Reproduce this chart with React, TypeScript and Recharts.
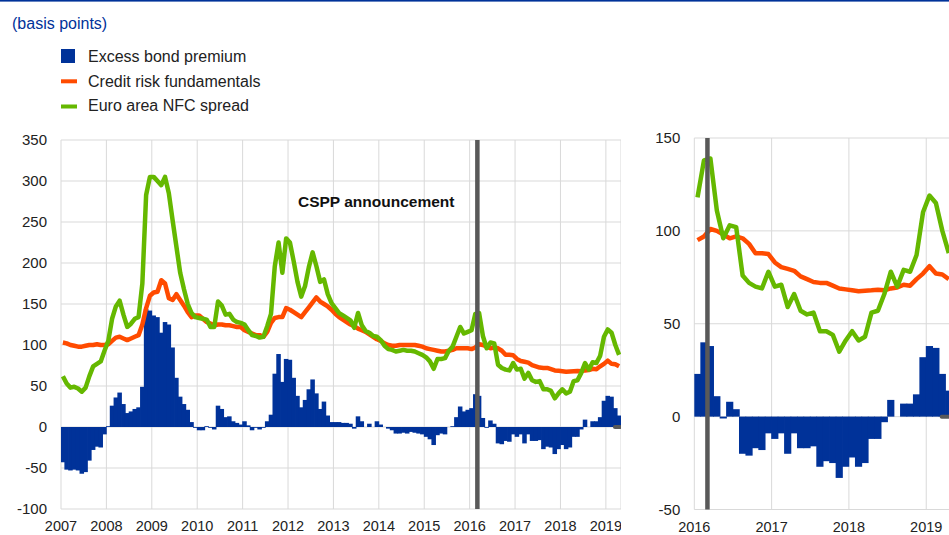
import React from "react";
import {
  ComposedChart,
  Bar,
  Line,
  XAxis,
  YAxis,
  CartesianGrid,
  ReferenceLine,
} from "recharts";

// monthly data, Jan 2007 - Apr 2019 (basis points)
const START_YEAR = 2007;

const excessBondPremium = [
  -43, -52, -53, -52, -53, -57, -55, -41, -28, -24, -25, -9, // 2007
  1, 26, 36, 42, 28, 17, 19, 22, 24, 49, 144, 142, // 2008
  136, 134, 115, 128, 125, 97, 60, 37, 28, 21, 6, -1, // 2009
  -4, -4, 1, -1, -3, 26, 22, 12, 13, 7, 5, 3, // 2010
  7, 2, -4, -1, -3, -1, 7, 15, 65, 89, 55, 83, // 2011
  82, 60, 38, 24, 33, 46, 58, 41, 22, 31, 14, 6, // 2012
  6, 6, 5, 5, 4, -2, 13, 7, 0, 4, 0, 7, // 2013
  3, 0, -2, -4, -8, -8, -7, -8, -6, -7, -8, -9, // 2014
  -12, -15, -22, -10, -8, -9, 0, 1, 12, 25, 19, 21, // 2015
  23, 40, 38, 11, -1, 8, 4, -20, -21, -17, -18, -9, // 2016
  -12, -9, -20, -9, -17, -17, -16, -27, -24, -25, -33, -27, // 2017
  -22, -27, -25, -12, -12, -3, 9, 0, 7, 7, 12, 32, // 2018
  38, 37, 23, 14, // 2019
];

const creditRiskFundamentals = [
  103, 102, 100, 99, 98, 98, 99, 100, 100, 101, 100, 100, // 2007
  101, 105, 109, 110, 108, 106, 108, 110, 112, 125, 145, 160, // 2008
  164, 165, 179, 175, 157, 155, 162, 155, 148, 140, 134, 136, // 2009
  136, 132, 128, 126, 124, 125, 125, 124, 124, 123, 122, 122, // 2010
  118, 116, 114, 112, 112, 110, 116, 127, 133, 134, 134, 145, // 2011
  143, 140, 137, 134, 140, 146, 152, 158, 153, 150, 147, 143, // 2012
  138, 134, 131, 128, 125, 123, 120, 118, 116, 113, 110, 107, // 2013
  105, 102, 100, 99, 99, 100, 100, 100, 100, 100, 99, 98, // 2014
  96, 95, 94, 93, 92, 92, 93, 94, 96, 96, 96, 96, // 2015
  95, 97, 101, 100, 98, 96, 97, 96, 93, 88, 88, 87.5, // 2016
  83, 80.5, 79.5, 78.5, 75.5, 74, 72.5, 72, 72, 70.5, 69, 68.5, // 2017
  68, 67.5, 67.8, 68, 68.3, 68, 69, 69.5, 71, 70.5, 74, 77, // 2018
  81, 77, 76.5, 74, // 2019
];

const nfcSpread = [
  62, 53, 48, 49, 47, 43, 48, 62, 74, 77, 80, 93, // 2007
  105, 132, 147, 154, 137, 122, 126, 132, 134, 175, 283, 305, // 2008
  305, 300, 295, 305, 285, 252, 220, 188, 168, 150, 139, 134, // 2009
  133, 132, 131, 122, 122, 153, 148, 137, 138, 131, 128, 127, // 2010
  125, 118, 112, 111, 109, 110, 123, 138, 196, 225, 188, 230, // 2011
  225, 202, 177, 159, 172, 195, 213, 196, 177, 180, 162, 151, // 2012
  145, 139, 136, 133, 130, 121, 139, 124, 117, 115, 111, 110, // 2013
  106, 99, 95, 94, 92, 93, 94, 93, 93, 92, 90, 88, // 2014
  85, 80, 71, 83, 83, 84, 93, 98, 110, 122, 114, 116, // 2015
  118, 138, 139, 111, 96, 103, 102, 76, 72, 70, 69, 78, // 2016
  70, 71, 59, 66, 57, 55, 56, 46, 46, 44, 35, 41, // 2017
  46, 41, 43, 56, 57, 66, 78, 70, 79, 78, 87, 110, // 2018
  119, 115, 100, 88, // 2019
];

const leftYears = [2007, 2008, 2009, 2010, 2011, 2012, 2013, 2014, 2015, 2016, 2017, 2018, 2019];
const rightYears = [2016, 2017, 2018, 2019];
const leftYTicks = [-100, -50, 0, 50, 100, 150, 200, 250, 300, 350];
const rightYTicks = [-50, 0, 50, 100, 150];

const CSPP_DATE = 2016.17;
const END = 2019 + 4 / 12;

const BLUE = "#003299";
const ORANGE = "#ff4b00";
const GREEN = "#65b800";
const GREY = "#595959";
const FONT = '"Liberation Sans", Arial, sans-serif';

// month midpoints so each bar fills its month
const rows = excessBondPremium.map((v, i) => ({
  t: START_YEAR + (i + 0.5) / 12,
  ebp: v,
  fund: creditRiskFundamentals[i],
  spread: nfcSpread[i],
}));
const rightRows = rows.filter((r) => r.t >= 2016);

const tickStyle = { fill: "#222", fontSize: 14.5, fontFamily: FONT };
const Y_AXIS_W = 50;

// bars touch in the original: pad each one a little so no hairline seams show
const SolidBar = (props: any) => {
  const { x, y, width, height } = props;
  if (x == null || y == null || !width) return null;
  const top = height < 0 ? y + height : y;
  return <rect x={x - 0.4} y={top} width={width + 0.8} height={Math.abs(height)} fill={BLUE} />;
};

function Panel({
  data,
  width,
  margin,
  xDomain,
  xTicks,
  yDomain,
  yTicks,
  xHeight,
}: {
  data: typeof rows;
  width: number;
  margin: { top: number; right: number; bottom: number; left: number };
  xDomain: [number, number];
  xTicks: number[];
  yDomain: [number, number];
  yTicks: number[];
  xHeight: number;
}) {
  // auto bar widths get rounded down to whole px, so pass one just under a month
  const plotW = width - margin.left - margin.right - Y_AXIS_W;
  const monthPx = plotW / ((xDomain[1] - xDomain[0]) * 12);

  return (
    <ComposedChart width={width} height={535} data={data} margin={margin} barCategoryGap={0} barGap={0}>
      <CartesianGrid stroke="#d9d9d9" strokeWidth={1} />
      <XAxis
        type="number"
        dataKey="t"
        domain={xDomain}
        ticks={xTicks}
        allowDataOverflow
        axisLine={false}
        tickLine={false}
        tickSize={6}
        tickMargin={6}
        height={xHeight}
        tick={tickStyle}
        tickFormatter={(v) => String(Math.round(v))}
      />
      <YAxis
        domain={yDomain}
        ticks={yTicks}
        allowDataOverflow
        axisLine={false}
        tickLine={false}
        tickSize={6}
        tickMargin={8}
        width={Y_AXIS_W}
        tick={{ ...tickStyle, fontSize: 15 }}
      />
      <Bar
        dataKey="ebp"
        fill={BLUE}
        barSize={monthPx - 0.05}
        shape={SolidBar}
        isAnimationActive={false}
      />
      <Line type="linear" dataKey="fund" stroke={ORANGE} strokeWidth={4.5} dot={false} strokeLinejoin="round" isAnimationActive={false} />
      <Line type="linear" dataKey="spread" stroke={GREEN} strokeWidth={4.5} dot={false} strokeLinejoin="round" isAnimationActive={false} />
      <ReferenceLine
        segment={[{ x: 2019.2, y: 0 }, { x: 2019.31, y: 0 }]}
        stroke={GREY}
        strokeWidth={4}
        strokeLinecap="round"
      />
      <ReferenceLine x={CSPP_DATE} stroke={GREY} strokeWidth={4.5} />
    </ComposedChart>
  );
}

export default function App() {
  return (
    <div
      style={{
        position: "relative",
        width: 949,
        height: 535,
        overflow: "hidden",
        background: "#fff",
        fontFamily: FONT,
      }}
    >
      <style>{`body{margin:0;overflow:hidden}`}</style>

      <div style={{ position: "absolute", left: 0, top: 0 }}>
        <Panel
          data={rows}
          width={621}
          margin={{ top: 140, right: 0, bottom: 0, left: 11 }}
          xDomain={[2007, END]}
          xTicks={leftYears}
          yDomain={[-100, 350]}
          yTicks={leftYTicks}
          xHeight={26}
        />
      </div>

      <div style={{ position: "absolute", left: 630, top: 0 }}>
        <Panel
          data={rightRows}
          width={322}
          margin={{ top: 138, right: 0, bottom: 0, left: 14.3 }}
          xDomain={[2016, END]}
          xTicks={rightYears}
          yDomain={[-50, 150]}
          yTicks={rightYTicks}
          xHeight={25.5}
        />
      </div>

      {/* header, legend and annotation */}
      <svg
        width={949}
        height={535}
        style={{ position: "absolute", left: 0, top: 0, pointerEvents: "none" }}
      >
        <rect x={0} y={0} width={949} height={1.6} fill={BLUE} />
        <text x={12} y={29} fontSize={16} fill={BLUE}>(basis points)</text>

        <rect x={61} y={49} width={14} height={14} fill={BLUE} />
        <text x={88} y={61.8} fontSize={16} fill="#222">Excess bond premium</text>

        <rect x={61} y={79.3} width={16} height={4} fill={ORANGE} />
        <text x={88} y={86.8} fontSize={16} fill="#222">Credit risk fundamentals</text>

        <rect x={61} y={104.5} width={16} height={4} fill={GREEN} />
        <text x={88} y={111.3} fontSize={16} fill="#222">Euro area NFC spread</text>

        <text x={298} y={207.3} fontSize={15.5} fontWeight="bold" fill="#111">CSPP announcement</text>
      </svg>
    </div>
  );
}
